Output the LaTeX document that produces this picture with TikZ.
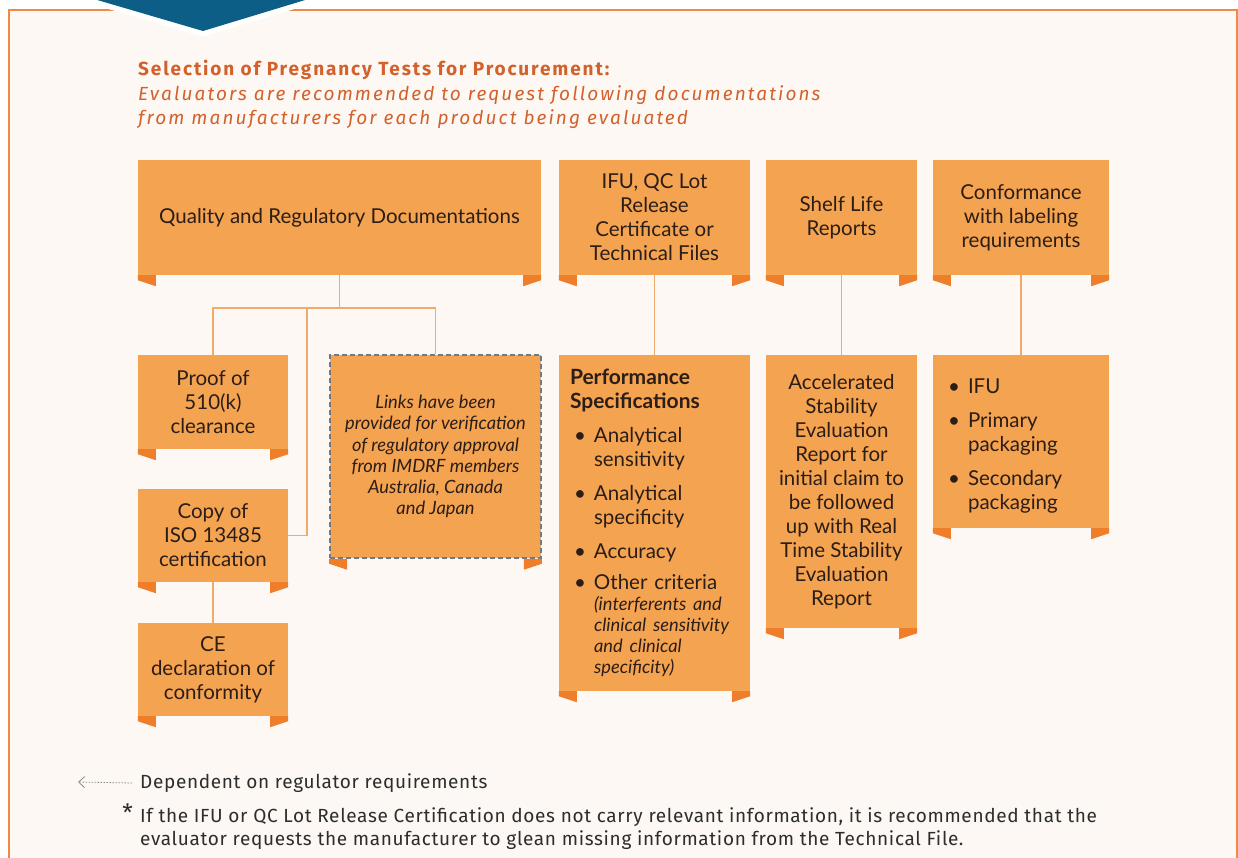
\documentclass[tikz,border=0pt]{standalone}
\usepackage{fontspec}
\setmainfont{Lato}
\newfontfamily\titlefont[LetterSpace=9.8]{Fira Sans}
\newfontfamily\subfont[LetterSpace=11]{Fira Sans}
\newfontfamily\footfont[LetterSpace=3.5]{Fira Sans}
\usetikzlibrary{arrows.meta}
\definecolor{bgc}{HTML}{FDF8F3}
\definecolor{framec}{HTML}{EE8A45}
\definecolor{boxc}{HTML}{F4A350}
\definecolor{tabc}{HTML}{EE7E2A}
\definecolor{linec}{HTML}{F0AA6C}
\definecolor{bluec}{HTML}{0D5E86}
\definecolor{titlec}{HTML}{D2612B}
\definecolor{txtc}{HTML}{2B1D17}
\definecolor{dashc}{HTML}{6D7A88}
\definecolor{footc}{HTML}{2D2D2D}
\definecolor{legc}{HTML}{8A8A8A}
\newcommand\bfirst[1]{\par\noindent\hangindent=24pt\hangafter=1\makebox[24pt][l]{\hspace{4pt}\textbullet}#1\par}
\newcommand\bitem[1]{\par\vspace{10pt}\noindent\hangindent=24pt\hangafter=1\makebox[24pt][l]{\hspace{4pt}\textbullet}#1\par}
\tikzset{
  box/.style={fill=boxc, draw=none, inner sep=0pt, align=center, text=txtc,
    font=\fontsize{20.5}{24}\selectfont},
  listbox/.style={box, align=left, inner xsep=11pt},
  conn/.style={draw=linec, line width=1.5pt},
  dashbox/.style={box, draw=dashc, line width=1.6pt, dash pattern=on 5pt off 3pt,
    font=\fontsize{18.3}{21.2}\selectfont\itshape}
}
\begin{document}
\begin{tikzpicture}[x=1pt,y=-1pt]
\useasboundingbox (0,0) rectangle (1238,858);
\fill[white] (0,0) rectangle (1238,858);
\fill[bgc] (9,10) rectangle (1237,880);
\draw[framec, line width=2pt] (9,880) -- (9,10) -- (1237,10) -- (1237,880);
\filldraw[fill=bluec, draw=white, line width=11pt, line join=miter] (29,-20) -- (371,-20) -- (203,31) -- cycle;
\fill[bluec] (29,-20) -- (371,-20) -- (203,31) -- cycle;

% title
\node[anchor=base west, inner sep=0pt, text=titlec, font=\titlefont\bfseries\fontsize{19}{24}\selectfont] (title) at (138,76) {Selection of Pregnancy Tests for Procurement:};
\node[anchor=north west, inner sep=0pt, align=left, text=titlec, font=\subfont\itshape\fontsize{19}{24}\selectfont] (sub) at (138,85) {Evaluators are recommended to request following documentations\\from manufacturers for each product being evaluated};

% top row
\node[box, minimum width=403pt, minimum height=115pt] (qrd) at (339.5,217.5) {Quality and Regulatory Documentations};
\node[box, minimum width=191pt, minimum height=115pt] (ifu) at (654.5,217.5) {IFU, QC Lot\\Release\\Certificate or\\Technical Files};
\node[box, minimum width=151pt, minimum height=115pt] (shelf) at (841.5,217.5) {Shelf Life\\Reports};
\node[box, minimum width=176pt, minimum height=115pt] (conf) at (1021,217.5) {Conformance\\with labeling\\requirements};

% second row
\node[box, minimum width=150pt, minimum height=94pt] (proof) at (213,402) {Proof of\\510(k)\\clearance};
\node[box, minimum width=150pt, minimum height=93pt] (iso) at (213,535.5) {Copy of\\ISO 13485\\certification};
\node[box, minimum width=150pt, minimum height=93pt] (ce) at (213,669.5) {CE\\declaration of\\conformity};
\node[dashbox, minimum width=211pt, minimum height=203pt] (links) at (435.5,456.5) {Links have been\\provided for verification\\of regulatory approval\\from IMDRF members\\Australia, Canada\\and Japan};
\node[listbox, text width=169pt, minimum height=336pt] (perf) at (654.5,523) {{\fontsize{21}{24}\selectfont\bfseries Performance\\Specifications\par}
\bitem{Analytical\newline sensitivity}
\bitem{Analytical\newline specificity}
\bitem{Accuracy}
\bitem{Other criteria\newline {\fontsize{18.3}{21}\selectfont\itshape \mbox{(interferents and}\newline \mbox{clinical sensitivity}\newline \mbox{and clinical}\newline specificity)\par}}};
\node[box, minimum width=151pt, minimum height=273pt] (accel) at (841.5,491.5) {Accelerated\\Stability\\Evaluation\\Report for\\initial claim to\\be followed\\up with Real\\Time Stability\\Evaluation\\Report};
\node[listbox, text width=154pt, minimum height=173pt] (labels) at (1021,441.5) {\bfirst{IFU}
\bitem{Primary\newline packaging}
\bitem{Secondary\newline packaging}};

% tabs
\foreach \n in {qrd,ifu,shelf,conf,proof,iso,ce,links,perf,accel,labels}{
  \fill[tabc] (\n.south west) -- ++(18,0) -- ++(0,11) -- ++(-18,-6) -- cycle;
  \fill[tabc] (\n.south east) -- ++(-18,0) -- ++(0,11) -- ++(18,-6) -- cycle;
}

% connectors
\coordinate (j1) at (339.5,308);
\coordinate (j2) at (307,308);
\draw[conn] (qrd.south) -- (j1);
\draw[conn] (proof.north) |- (j1 -| links.north) -- (links.north);
\draw[conn] (j2) |- (iso.east);
\draw[conn] (iso.south) -- (ce.north);
\draw[conn] (ifu.south) -- (perf.north);
\draw[conn] (shelf.south) -- (accel.north);
\draw[conn] (conf.south) -- (labels.north);

% footer
\node[anchor=west, inner sep=0pt, text=footc, font=\footfont\fontsize{19}{23}\selectfont] (leg) at (140,783) {Dependent on regulator requirements};
\coordinate (legend-end) at (78,782);
\draw[legc, line width=0.8pt, dash pattern=on 1.5pt off 1.5pt, -{Straight Barb[length=6pt,width=11pt]}] ([xshift=-8pt]leg.west) -- (legend-end);
\node[anchor=north west, inner sep=0pt, align=left, text=footc, font=\footfont\fontsize{19}{23}\selectfont] (note) at (140,807) {If the IFU or QC Lot Release Certification does not carry relevant information, it is recommended that the\\evaluator requests the manufacturer to glean missing information from the Technical File.};
\node[anchor=north east, inner sep=0pt, text=footc, font=\footfont\fontsize{24}{24}\selectfont] (star) at ([xshift=-7pt,yshift=3pt]note.north west) {*};
\end{tikzpicture}
\end{document}
